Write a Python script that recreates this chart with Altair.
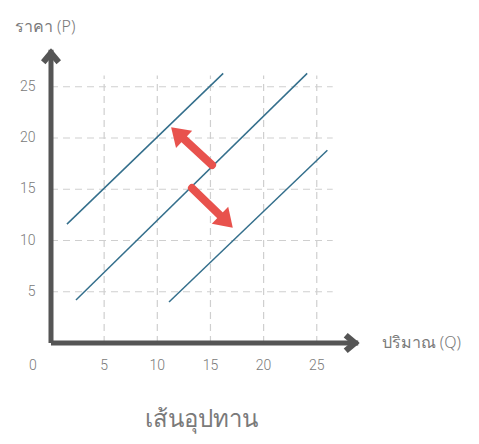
import altair as alt
import pandas as pd

# ---- data ----
tick_values = [5, 10, 15, 20, 25]
tick_labels = ["5", "10", "15", "20", "25"]

curve_names = ["S1", "S0", "S2"]
curve_q_start = [1.5, 2.35, 11.1]
curve_p_start = [11.6, 4.2, 4.0]
curve_q_end = [16.2, 24.1, 26.0]
curve_p_end = [26.3, 26.3, 18.8]

# shift arrows: tail -> head
arrow_tail_q = [15.15, 13.26]
arrow_tail_p = [17.37, 15.12]
arrow_neck_q = [12.3, 16.1]
arrow_neck_p = [20.1, 12.25]
arrow_tip_q = [11.3, 17.1]
arrow_tip_p = [21.05, 11.25]
arrow_angle = [313, 134]

grid_q_max = 26.5
grid_p_max = 26.1
axis_q_max = 28.9
axis_p_max = 28.6

y_title = "ราคา (P)"
x_title = "ปริมาณ (Q)"
chart_title = "เส้นอุปทาน"

# ---- tables ----
xs = alt.Scale(domain=[-4.045, 39.51], nice=False, zero=False)
ys = alt.Scale(domain=[-9.07, 32.68], nice=False, zero=False)

def X(f):
    return alt.X(f, type="quantitative", scale=xs, axis=None)

def Y(f):
    return alt.Y(f, type="quantitative", scale=ys, axis=None)

vgrid = pd.DataFrame({"x": tick_values, "y": [0] * 5, "y2": [grid_p_max] * 5})
hgrid = pd.DataFrame({"y": tick_values, "x": [0] * 5, "x2": [grid_q_max] * 5})
curves = pd.DataFrame({"name": curve_names, "x": curve_q_start, "y": curve_p_start,
                       "x2": curve_q_end, "y2": curve_p_end})
shafts = pd.DataFrame({"x": arrow_tail_q, "y": arrow_tail_p, "x2": arrow_neck_q, "y2": arrow_neck_p})
heads = pd.DataFrame({"x": arrow_tip_q, "y": arrow_tip_p, "a": arrow_angle})
axes_df = pd.DataFrame({"x": [0, 0], "y": [0, 0], "x2": [0, axis_q_max], "y2": [axis_p_max, 0]})
axis_heads = pd.DataFrame({"x": [0, axis_q_max], "y": [axis_p_max, 0], "a": [0, 90]})
xlab = pd.DataFrame({"x": [-1.7] + tick_values, "y": [-2.25] * 6, "t": ["0"] + tick_labels})
ylab = pd.DataFrame({"x": [-1.45] * 5, "y": tick_values, "t": tick_labels})
titles = pd.DataFrame({"x": [-3.4, 31.1], "y": [30.8, 0.0], "t": [y_title, x_title]})
main_title = pd.DataFrame({"x": [14.2], "y": [-7.5], "t": [chart_title]})

grid_style = dict(color="#cfcfcf", strokeWidth=1.2, strokeDash=[7, 5])

g1 = alt.Chart(vgrid).mark_rule(**grid_style).encode(x=X("x"), y=Y("y"), y2="y2")
g2 = alt.Chart(hgrid).mark_rule(**grid_style).encode(y=Y("y"), x=X("x"), x2="x2")

lines = alt.Chart(curves).mark_rule(color="#346f8c", strokeWidth=1.5).encode(
    x=X("x"), y=Y("y"), x2="x2", y2="y2")

shaft = alt.Chart(shafts).mark_rule(color="#e8524d", strokeWidth=8, strokeCap="round").encode(
    x=X("x"), y=Y("y"), x2="x2", y2="y2")
head = alt.Chart(heads).mark_point(
    shape="M0,0 L1,1.5 L-1,1.5 Z", filled=True, color="#e8524d", opacity=1, size=560
).encode(x=X("x"), y=Y("y"), angle=alt.Angle("a:Q", scale=None))

ax = alt.Chart(axes_df).mark_rule(color="#555555", strokeWidth=5).encode(
    x=X("x"), y=Y("y"), x2="x2", y2="y2")
axh = alt.Chart(axis_heads).mark_point(
    shape="M0,-0.15 L1,1.05 L0.55,1.45 L0,0.8 L-0.55,1.45 L-1,1.05 Z", filled=True,
    color="#555555", opacity=1, size=400
).encode(x=X("x"), y=Y("y"), angle=alt.Angle("a:Q", scale=None))

txt_style = dict(font="Roboto", fontWeight=300, fontSize=14, color="#7a7a7a")
xl = alt.Chart(xlab).mark_text(align="center", baseline="middle", **txt_style).encode(
    x=X("x"), y=Y("y"), text="t:N")
yl = alt.Chart(ylab).mark_text(align="right", baseline="middle", **txt_style).encode(
    x=X("x"), y=Y("y"), text="t:N")
tt = alt.Chart(titles).mark_text(align="left", baseline="middle", font="Noto Sans",
                                  fontWeight=300, fontSize=16, color="#7a7a7a").encode(
    x=X("x"), y=Y("y"), text="t:N")
mt = alt.Chart(main_title).mark_text(align="center", baseline="middle", font="Noto Sans",
                                      fontWeight=300, fontSize=24, color="#7a7a7a").encode(
    x=X("x"), y=Y("y"), text="t:N")

chart = alt.layer(g1, g2, lines, shaft, head, ax, axh, xl, yl, tt, mt).properties(
    width=463, height=428, padding=0, autosize=alt.AutoSizeParams(type="none"),
    background="white"
).configure_view(stroke=None)

chart.save("out.html", embed_options={"renderer": "svg", "actions": False})
